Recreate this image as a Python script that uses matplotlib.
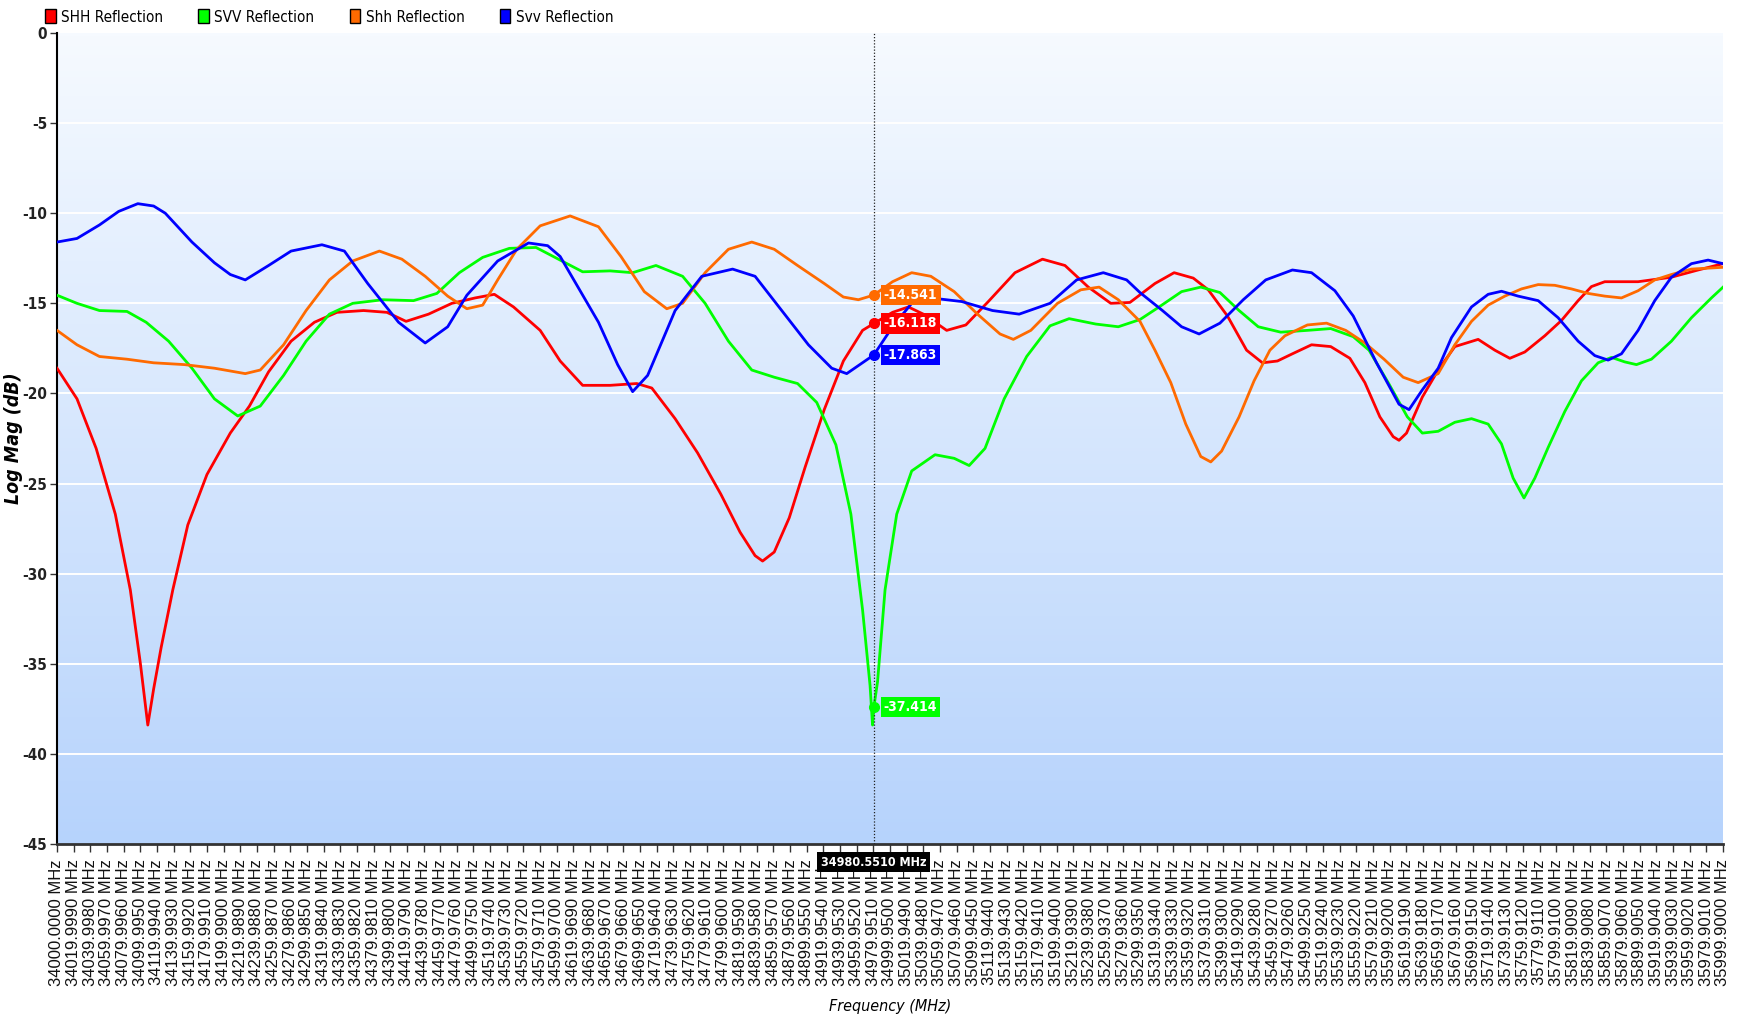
import numpy as np
import matplotlib
matplotlib.use("Agg")
import matplotlib.pyplot as plt
from matplotlib import font_manager
from matplotlib.patches import Patch
from matplotlib.colors import LinearSegmentedColormap

# frequencies in MHz, values in dB
freq_shh = [34000, 34024, 34047, 34070, 34088, 34100, 34109, 34116, 34125, 34139, 34157, 34180, 34208, 34231,
            34254, 34281, 34309, 34336, 34368, 34396, 34419, 34446, 34474, 34502, 34525, 34548, 34580, 34604,
            34631, 34664, 34696, 34714, 34742, 34769, 34797, 34820, 34838, 34847, 34861, 34879, 34898, 34921,
            34944, 34967, 34980.551, 35003, 35022, 35040, 35068, 35091, 35118, 35150, 35183, 35210, 35238,
            35265, 35288, 35318, 35341, 35364, 35382, 35405, 35428, 35447, 35465, 35483, 35506, 35529, 35552,
            35570, 35588, 35604, 35611, 35620, 35639, 35658, 35678, 35706, 35726, 35744, 35762, 35786, 35806,
            35826, 35842, 35858, 35898, 35938, 35970, 36000]
SHH = [-18.6, -20.3, -23.05, -26.7, -30.9, -34.95, -38.4, -36.4, -34.1, -30.9, -27.3, -24.5, -22.2, -20.7,
       -18.8, -17.1, -16.05, -15.5, -15.4, -15.5, -16.0, -15.6, -15.0, -14.7, -14.5, -15.2, -16.5, -18.2,
       -19.55, -19.55, -19.45, -19.7, -21.4, -23.3, -25.6, -27.7, -29.0, -29.3, -28.8, -26.9, -24.1, -20.9,
       -18.2, -16.5, -16.118, -15.5, -15.2, -15.6, -16.5, -16.2, -14.9, -13.3, -12.55, -12.9, -14.1,
       -15.0, -14.95, -13.9, -13.3, -13.6, -14.25, -15.7, -17.6, -18.3, -18.2, -17.8, -17.3, -17.4, -18.05,
       -19.4, -21.3, -22.4, -22.6, -22.2, -20.2, -18.7, -17.4, -17.0, -17.6, -18.05, -17.7, -16.8, -15.95,
       -14.85, -14.07, -13.8, -13.8, -13.55, -13.15, -12.8]

freq_svv = [34000, 34024, 34051, 34084, 34107, 34134, 34162, 34189, 34217, 34244, 34272, 34299, 34327, 34355,
            34391, 34428, 34456, 34483, 34511, 34543, 34575, 34604, 34631, 34664, 34691, 34719, 34751, 34778,
            34806, 34834, 34861, 34889, 34912, 34935, 34953, 34967, 34976, 34979, 34980.551, 34985, 34994,
            35008, 35026, 35054, 35077, 35095, 35114, 35137, 35164, 35192, 35215, 35247, 35274, 35300, 35323,
            35350, 35373, 35396, 35419, 35442, 35469, 35501, 35529, 35556, 35575, 35598, 35621, 35639, 35658,
            35678, 35698, 35718, 35734, 35748, 35761, 35774, 35790, 35810, 35830, 35850, 35866, 35882, 35896,
            35914, 35938, 35962, 35986, 36000]
SVV = [-14.55, -15.0, -15.4, -15.45, -16.05, -17.1, -18.6, -20.3, -21.25, -20.7, -19.0, -17.1, -15.6, -15.0,
       -14.8, -14.85, -14.45, -13.3, -12.45, -11.95, -11.9, -12.6, -13.25, -13.2, -13.3, -12.9, -13.5, -15.0,
       -17.1, -18.7, -19.1, -19.45, -20.5, -22.85, -26.7, -32.0, -36.2, -38.4, -37.414, -36.0, -30.9,
       -26.7, -24.3, -23.4, -23.6, -24.0, -23.05, -20.3, -17.95, -16.25, -15.85, -16.15, -16.3, -15.9, -15.2,
       -14.35, -14.1, -14.4, -15.4, -16.3, -16.6, -16.5, -16.4, -16.85, -17.6, -19.4, -21.3, -22.2, -22.1,
       -21.6, -21.4, -21.7, -22.8, -24.7, -25.8, -24.7, -23.0, -21.0, -19.3, -18.3, -18.0, -18.25, -18.4,
       -18.1, -17.1, -15.8, -14.7, -14.1]

freq_shh2 = [34000, 34024, 34051, 34084, 34116, 34153, 34189, 34226, 34244, 34272, 34299, 34327, 34355, 34387,
             34414, 34442, 34469, 34492, 34511, 34529, 34552, 34580, 34616, 34650, 34677, 34705, 34732, 34751,
             34778, 34806, 34834, 34861, 34889, 34921, 34944, 34962, 34980.551, 35003, 35026, 35049, 35077,
             35105, 35132, 35148, 35169, 35201, 35229, 35251, 35274, 35300, 35318, 35337, 35355, 35373, 35385,
             35398, 35419, 35437, 35456, 35474, 35501, 35524, 35547, 35570, 35593, 35616, 35634, 35658, 35678,
             35698, 35718, 35738, 35758, 35778, 35798, 35818, 35838, 35858, 35878, 35898, 35918, 35938, 35962,
             36000]
Shh = [-16.5, -17.3, -17.95, -18.1, -18.3, -18.4, -18.6, -18.9, -18.7, -17.3, -15.4, -13.7, -12.65, -12.1,
       -12.55, -13.5, -14.6, -15.3, -15.1, -13.7, -12.0, -10.7, -10.15, -10.75, -12.4, -14.35, -15.3, -15.0,
       -13.3, -12.0, -11.6, -12.0, -12.9, -13.9, -14.65, -14.8, -14.541, -13.8, -13.3, -13.5, -14.35,
       -15.6, -16.7, -17.0, -16.5, -15.0, -14.25, -14.1, -14.8, -16.0, -17.6, -19.4, -21.7, -23.5, -23.8,
       -23.2, -21.3, -19.3, -17.6, -16.8, -16.2, -16.1, -16.5, -17.2, -18.1, -19.1, -19.4, -18.9, -17.3,
       -16.0, -15.1, -14.6, -14.2, -13.96, -14.0, -14.2, -14.45, -14.6, -14.7, -14.3, -13.7, -13.4, -13.1,
       -13.0]

freq_svv2 = [34000, 34024, 34051, 34074, 34097, 34116, 34130, 34162, 34189, 34208, 34226, 34254, 34281, 34318,
             34345, 34373, 34410, 34442, 34469, 34492, 34529, 34566, 34589, 34604, 34650, 34673, 34691, 34709,
             34742, 34774, 34811, 34838, 34870, 34902, 34930, 34948, 34980.551, 35003, 35026, 35049, 35086,
             35123, 35155, 35192, 35224, 35256, 35284, 35300, 35327, 35350, 35371, 35396, 35424, 35451, 35483,
             35506, 35534, 35556, 35584, 35611, 35623, 35639, 35658, 35674, 35698, 35718, 35734, 35754, 35778,
             35802, 35826, 35846, 35862, 35878, 35898, 35918, 35938, 35962, 35982, 36000]
Svv = [-11.6, -11.4, -10.65, -9.9, -9.47, -9.6, -10.0, -11.6, -12.75, -13.4, -13.7, -12.9, -12.1, -11.75,
       -12.1, -13.9, -16.05, -17.2, -16.3, -14.55, -12.65, -11.65, -11.8, -12.4, -16.05, -18.4, -19.9, -19.0,
       -15.4, -13.5, -13.1, -13.5, -15.4, -17.3, -18.6, -18.9, -17.863, -16.3, -15.0, -14.7, -14.9,
       -15.4, -15.6, -15.0, -13.7, -13.3, -13.7, -14.4, -15.4, -16.3, -16.7, -16.1, -14.8, -13.7, -13.15,
       -13.3, -14.3, -15.7, -18.3, -20.6, -20.9, -19.8, -18.6, -16.9, -15.2, -14.5, -14.33, -14.6, -14.85,
       -15.8, -17.1, -17.9, -18.15, -17.8, -16.5, -14.85, -13.55, -12.8, -12.6, -12.8]

series_names = ["SHH Reflection", "SVV Reflection", "Shh Reflection", "Svv Reflection"]
series_colors = ["#ff0000", "#00ff00", "#ff6a00", "#0000ff"]

cursor_freq = 34980.551
cursor_vals = [-16.118, -37.414, -14.541, -17.863]

# x ticks: 101 ticks, 19.999 MHz apart
tick_start = 34000.0
tick_step = 19.999
n_ticks = 101
x_ticks = [tick_start + i * tick_step for i in range(n_ticks)]
x_tick_labels = ["%.4f MHz" % t for t in x_ticks]
y_ticks = [0, -5, -10, -15, -20, -25, -30, -35, -40, -45]

# fonts
names = {f.name for f in font_manager.fontManager.ttflist}
if "Liberation Sans Narrow" in names:
    narrow = dict(family="Liberation Sans Narrow")
else:
    narrow = dict(family="DejaVu Sans", stretch="condensed")
normal = dict(family="Liberation Sans" if "Liberation Sans" in names else "DejaVu Sans")

fig = plt.figure(figsize=(17.38, 10.24), dpi=100)
ax = fig.add_axes([57 / 1738, 1 - 844 / 1024, (1723 - 57) / 1738, (844 - 33) / 1024])

# background gradient
cmap = LinearSegmentedColormap.from_list("bg", ["#f6faff", "#b6d3fc"])
grad = np.linspace(0, 1, 256).reshape(-1, 1)
ax.imshow(grad, cmap=cmap, aspect="auto", extent=[0, 1, 0, 1], transform=ax.transAxes, zorder=0)

for yv in y_ticks[1:-1]:
    ax.axhline(yv, color="white", lw=1.4, zorder=1)

all_freqs = [freq_shh, freq_svv, freq_shh2, freq_svv2]
all_vals = [SHH, SVV, Shh, Svv]
for fr, vals, col in zip(all_freqs, all_vals, series_colors):
    ax.plot(fr, vals, color=col, lw=2.0, zorder=3, solid_joinstyle="round")

# cursor
ax.axvline(cursor_freq, color="#222222", lw=0.9, ls=(0, (1, 1.5)), zorder=4)
for val, col in zip(cursor_vals, series_colors):
    ax.plot([cursor_freq], [val], "o", color=col, ms=7, zorder=5)
    ax.annotate("%.3f" % val, xy=(cursor_freq, val), xytext=(10, 0), textcoords="offset pixels",
                ha="left", va="center", color="white", fontsize=10, fontweight="bold", **narrow,
                bbox=dict(boxstyle="square,pad=0.22", fc=col, ec="none"), zorder=6)
ax.annotate("%.4f MHz" % cursor_freq, xy=(cursor_freq, -45), xytext=(0, -18), textcoords="offset pixels",
            ha="center", va="center", color="white", fontsize=9, fontweight="bold", **narrow,
            bbox=dict(boxstyle="square,pad=0.3", fc="black", ec="none"), zorder=10, annotation_clip=False)

ax.set_xlim(34000, x_ticks[-1])
ax.set_ylim(-45, 0)
ax.set_xticks(x_ticks)
ax.set_xticklabels(x_tick_labels, rotation=90, fontsize=12, color="#111111", **normal)
ax.set_yticks(y_ticks)
ax.set_yticklabels([str(v) for v in y_ticks], fontsize=11, fontweight="bold", color="#222222", **narrow)
ax.tick_params(axis="x", length=6, width=1, pad=5, color="#333333")
ax.tick_params(axis="y", length=5, width=1, pad=2, color="#333333")

for side in ["top", "right"]:
    ax.spines[side].set_visible(False)
ax.spines["left"].set_color("black")
ax.spines["left"].set_linewidth(1.5)
ax.spines["bottom"].set_color("#333333")
ax.spines["bottom"].set_linewidth(2)

ax.set_ylabel("Log Mag (dB)", fontsize=14, fontweight="bold", fontstyle="italic", **narrow)
ax.yaxis.set_label_coords((23 - 57) / 1666, 0.5)
ax.set_xlabel("Frequency (MHz)", fontsize=11.5, fontstyle="italic", **narrow)
ax.xaxis.set_label_coords(0.5, -(999 - 844) / 811)

handles = [Patch(facecolor=c, edgecolor="black", lw=1) for c in series_colors]
fig.legend(handles, series_names, loc="center left", bbox_to_anchor=(45 / 1738, 1 - 17 / 1024),
           ncol=4, frameon=False, handlelength=0.7, handleheight=1.0, handletextpad=0.35,
           columnspacing=2.3, prop=dict(size=11, **narrow), borderaxespad=0, borderpad=0)

fig.savefig("out.png", dpi=100, facecolor="white")
